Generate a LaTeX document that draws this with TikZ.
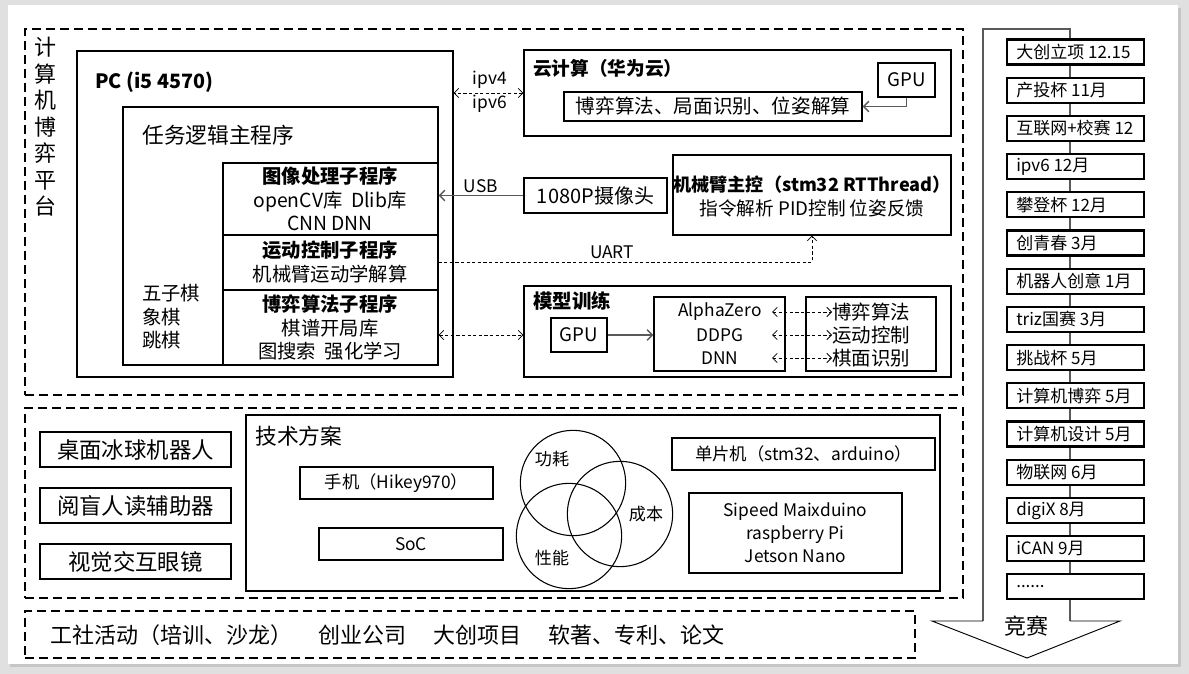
\documentclass[tikz,border=0pt]{standalone}
\usepackage{fontspec}
\setmainfont{Noto Sans CJK SC}
\usetikzlibrary{arrows.meta,fit,calc}

\definecolor{linegray}{RGB}{89,89,89}
\definecolor{pagegray}{RGB}{224,224,224}

\newcommand{\fsz}[1]{\fontsize{#1pt}{1.22\dimexpr#1pt\relax}\selectfont}
\newcommand{\moredots}{......}

\tikzset{
  box/.style={draw=black, line width=0.8pt, inner sep=0pt},
  frame/.style={draw=black, line width=1.6pt, dash pattern=on 6.5pt off 4pt, inner sep=0pt},
  racebox/.style={draw=black, line width=1.7pt, fill=white, inner sep=0pt},
  txt/.style={inner sep=0pt, align=center},
  dlink/.style={draw=black, line width=0.6pt, dash pattern=on 2.4pt off 1.8pt, {Straight Barb[length=3.5pt,width=7pt]}-{Straight Barb[length=3.5pt,width=7pt]}},
  dlinkone/.style={draw=black, line width=0.6pt, dash pattern=on 2.4pt off 1.8pt, -{Straight Barb[length=3.5pt,width=7pt]}},
  solidarrow/.style={draw=linegray, line width=1.1pt, -{Straight Barb[length=4pt,width=8pt]}},
}

\begin{document}
\begin{tikzpicture}[x=0.75pt, y=-0.75pt]
\useasboundingbox (0,0) rectangle (1189,674);
% page
\fill[pagegray] (0,0) rectangle (1189,674);
\fill[gray!45] (10,8) rectangle (1181,667);
\fill[white] (8,5) rectangle (1178,664);

% ===== computer game platform =====
\node[frame, fit={(25,29) (963,395)}] (platform) {};
\node[txt, font=\fontsize{16.5pt}{19.9pt}\selectfont] (ptitle) at (45,127) {计\\算\\机\\博\\弈\\平\\台};

\node[box, fit={(77,51) (453,377)}] (pc) {};
\node[txt, anchor=west, font=\fsz{14.8}\bfseries] (pclabel) at (95,82) {PC (i5 4570)};

\node[box, fit={(123,107) (438,365)}] (mainprog) {};
\node[txt, anchor=west, font=\fsz{16.3}] (mainlabel) at (142,135) {任务逻辑主程序};

\node[box, fit={(223,163) (438,235)}] (img) {};
\node[box, fit={(223,235) (438,290)}] (motion) {};
\node[box, fit={(223,290) (438,365)}] (game) {};
\node[txt, font=\fontsize{14.5pt}{17.6pt}\selectfont] (imgtext) at (330,199)
  {\textbf{图像处理子程序}\\openCV库\ \ Dlib库\\CNN DNN};
\node[txt, font=\fontsize{14.5pt}{17.6pt}\selectfont] (motiontext) at (330,262)
  {\textbf{运动控制子程序}\\机械臂运动学解算};
\node[txt, font=\fontsize{14.5pt}{17.6pt}\selectfont] (gametext) at (330,327.5)
  {\textbf{博弈算法子程序}\\棋谱开局库\\图搜索\ \ 强化学习};
\node[txt, align=left, anchor=west, font=\fontsize{14.5pt}{17.6pt}\selectfont] (chess) at (142,317)
  {五子棋\\象棋\\跳棋};

% cloud
\node[box, fit={(524,50) (951,136)}] (cloud) {};
\node[txt, anchor=west, font=\fsz{14}\bfseries] (cloudlabel) at (533,68) {云计算（华为云）};
\node[box, fit={(878,63) (935,97)}] (cgpu) {};
\node[txt, font=\fsz{14}] (cgputext) at (cgpu.center) {GPU};
\node[box, fit={(564,92) (862,121)}] (cinner) {};
\node[txt, font=\fsz{14.7}] (cinnertext) at (cinner.center) {博弈算法、局面识别、位姿解算};
\draw[solidarrow] (cgpu.south) |- (cinner.east);

\draw[dlink] (cloud.west |- 0,93) -- (pc.east |- 0,93);
\node[txt, font=\fsz{13}] (ipv4) at (490,80) {ipv4};
\node[txt, font=\fsz{13}] (ipv6) at (490,104) {ipv6};

% camera
\node[box, fit={(524,178) (667,213)}] (cam) {};
\node[txt, font=\fsz{15}] (camtext) at (cam.center) {1080P摄像头};
\draw[solidarrow] (cam.west) -- (cam.west -| img.east);
\node[txt, font=\fsz{13}] (usb) at (481,186) {USB};

% robot arm controller
\node[box, fit={(673,155) (951,235)}] (arm) {};
\node[txt, font=\fontsize{14pt}{18pt}\selectfont] (armtext) at (812,196)
  {{\fontsize{13.6pt}{18pt}\selectfont\bfseries 机械臂主控（stm32 RTThread）}\\指令解析 PID控制 位姿反馈};
\coordinate (uartturn) at (812,262);
\draw[dlinkone] (motion.east |- uartturn) -- (uartturn) -- (arm.south);
\node[txt, font=\fsz{13}] (uart) at (612,252) {UART};

% model training
\node[box, fit={(524,286) (951,377)}] (train) {};
\node[txt, anchor=west, font=\fsz{14.6}\bfseries] (trainlabel) at (533,301) {模型训练};
\node[box, fit={(551,318) (607,352)}] (tgpu) {};
\node[txt, font=\fsz{14}] (tgputext) at (tgpu.center) {GPU};
\node[box, fit={(654,297) (785,371)}] (algo) {};
\node[box, fit={(806,297) (936,371)}] (tasks) {};
\node[txt, font=\fsz{13}] (a1) at (720,312) {AlphaZero};
\node[txt, font=\fsz{13}] (a2) at (720,335) {DDPG};
\node[txt, font=\fsz{13}] (a3) at (720,358) {DNN};
\node[txt, anchor=west, font=\fsz{14.6}] (t1) at (832,312) {博弈算法};
\node[txt, anchor=west, font=\fsz{14.6}] (t2) at (832,335) {运动控制};
\node[txt, anchor=west, font=\fsz{14.6}] (t3) at (832,358) {棋面识别};
\coordinate (linkstart) at (772,335);
\draw[dlink] (linkstart |- t1.west) -- (t1.west);
\draw[dlink] (linkstart |- t2.west) -- (t2.west);
\draw[dlink] (linkstart |- t3.west) -- (t3.west);
\draw[solidarrow] (tgpu.east) -- (tgpu.east -| algo.west);
\draw[dlink] (game.east |- tgpu) -- (train.west |- tgpu);

% ===== applications and technical scheme =====
\node[frame, fit={(25,408) (963,598)}] (apps) {};
\node[box, fit={(40,432) (231,467)}] (hockey) {};
\node[txt, font=\fsz{16.8}] (hockeytext) at (hockey.center) {桌面冰球机器人};
\node[box, fit={(40,488) (231,523)}] (reader) {};
\node[txt, font=\fsz{16.8}] (readertext) at (reader.center) {阅盲人读辅助器};
\node[box, fit={(40,544) (231,579)}] (glasses) {};
\node[txt, font=\fsz{16.8}] (glassestext) at (glasses.center) {视觉交互眼镜};

\node[box, fit={(246,415) (940,591)}] (tech) {};
\node[txt, anchor=west, font=\fsz{16.3}] (techlabel) at (255,436) {技术方案};
\node[box, fit={(300,467) (493,499)}] (phone) {};
\node[txt, font=\fsz{13}] (phonetext) at (phone.center) {手机（Hikey970）};
\node[box, fit={(319,528) (503,560)}] (soc) {};
\node[txt, font=\fsz{13}] (soctext) at (soc.center) {SoC};

\node[circle, draw=black, line width=0.8pt, minimum size=79pt, inner sep=0pt] (cpower) at (573,483) {};
\node[circle, draw=black, line width=0.8pt, minimum size=79pt, inner sep=0pt] (ccost) at (620,514) {};
\node[circle, draw=black, line width=0.8pt, minimum size=79pt, inner sep=0pt] (cperf) at (569,536) {};
\node[txt, font=\fsz{12.8}] (lpower) at (552,459) {功耗};
\node[txt, font=\fsz{12.8}] (lcost) at (646,514) {成本};
\node[txt, font=\fsz{12.8}] (lperf) at (552,558) {性能};

\node[box, fit={(672,438) (935,470)}] (mcu) {};
\node[txt, font=\fsz{13}] (mcutext) at (mcu.center) {单片机（stm32、arduino）};
\node[box, fit={(689,493) (902,573)}] (boards) {};
\node[txt, font=\fontsize{13pt}{17.2pt}\selectfont] (boardtext) at (boards.center)
  {Sipeed Maixduino\\raspberry Pi\\Jetson Nano};

% ===== activities =====
\node[frame, fit={(25,611) (915,658)}] (misc) {};
\node[txt, anchor=west, font=\fsz{16.5}] (m1) at (50,635) {工社活动（培训、沙龙）};
\node[txt, anchor=west, font=\fsz{16.5}] (m2) at (318,635) {创业公司};
\node[txt, anchor=west, font=\fsz{16.5}] (m3) at (433,635) {大创项目};
\node[txt, anchor=west, font=\fsz{16.5}] (m4) at (548,635) {软著、专利、论文};

% ===== competitions =====
\draw[linegray, line width=1pt] (983,621) -- (983,29) -- (1070,29) -- (1070,621);
\draw[black, line width=0.7pt] (983,621) -- (932,621) -- (1027,658) -- (1120,621) -- (1070,621);
\node[txt, font=\fsz{16.5}] (race) at (1026,626) {竞赛};

\foreach \t [count=\i] in {大创立项 12.15, 产投杯 11月, 互联网+校赛 12, ipv6 12月, 攀登杯 12月,
  创青春 3月, 机器人创意 1月, triz国赛 3月, 挑战杯 5月, 计算机博弈 5月,
  计算机设计 5月, 物联网 6月, digiX 8月, iCAN 9月, \moredots} {
  \pgfmathsetmacro{\ytop}{39.5+38.2*(\i-1)}
  \pgfmathsetmacro{\ybot}{\ytop+25}
  \pgfmathsetmacro{\ymid}{\ytop+12.5}
  \node[racebox, fit={(1007,\ytop) (1144,\ybot)}] (r\i) {};
  \node[txt, anchor=west, font=\fsz{12.75}] (rt\i) at (1016,\ymid) {\t};
}
\end{tikzpicture}
\end{document}
